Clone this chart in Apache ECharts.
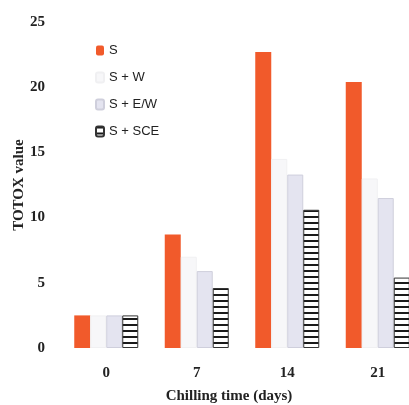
<!DOCTYPE html>
<html>
<head>
<meta charset="utf-8">
<script src="https://cdn.jsdelivr.net/npm/echarts@6/dist/echarts.min.js"></script>
<style>
  html, body { margin: 0; padding: 0; background: #fff; }
  #main { width: 409px; height: 405px; }
</style>
</head>
<body>
<div id="main"></div>
<script>
const days = ['0', '7', '14', '21']
const seriesNames = ['S', 'S + W', 'S + E/W', 'S + SCE']
const valS = [2.5, 8.7, 22.7, 20.4]
const valW = [2.5, 7.0, 14.5, 13.0]
const valEW = [2.5, 5.9, 13.3, 11.5]
const valSCE = [2.5, 4.6, 10.6, 5.4]

// horizontal stripe fill for S + SCE
const stripe = document.createElement('canvas')
stripe.width = 8
stripe.height = 6
const ctx = stripe.getContext('2d')
ctx.fillStyle = '#ffffff'
ctx.fillRect(0, 0, 8, 6)
ctx.fillStyle = '#1a1a1a'
ctx.fillRect(0, 0, 8, 2)

const serif = '"Liberation Serif", "Times New Roman", serif'
const myChart = echarts.init(document.getElementById('main'))

const barBase = {
    type: 'bar',
    barWidth: 16,
    barGap: '0%',
    animation: false
}

const option = {
    backgroundColor: '#fff',
    grid: { left: 61, top: 22, width: 362, height: 326, containLabel: false, outerBoundsMode: 'none' },
    legend: {
        orient: 'vertical',
        left: 90,
        top: 39,
        itemWidth: 8,
        itemHeight: 10,
        itemGap: 14,
        textStyle: { fontFamily: '"Liberation Sans", Arial, sans-serif', fontSize: 13, color: '#222' },
        data: seriesNames
    },
    xAxis: {
        type: 'category',
        data: days,
        axisLine: { show: false },
        axisTick: { show: false },
        axisLabel: { fontFamily: serif, fontWeight: 'bold', fontSize: 15, color: '#222', margin: 18 },
        name: 'Chilling time (days)',
        nameLocation: 'middle',
        nameGap: 41,
        nameTextStyle: { fontFamily: serif, fontWeight: 'bold', fontSize: 15, color: '#222', padding: [0, 26, 0, 0] }
    },
    yAxis: {
        type: 'value',
        min: 0,
        max: 25,
        interval: 5,
        axisLine: { show: false },
        axisTick: { show: false },
        splitLine: { show: false },
        axisLabel: { fontFamily: serif, fontWeight: 'bold', fontSize: 15, color: '#222', margin: 16 },
        name: 'TOTOX value',
        nameLocation: 'middle',
        nameGap: 34,
        nameMoveOverlap: false,
        nameTextStyle: { fontFamily: serif, fontWeight: 'bold', fontSize: 15, color: '#222' }
    },
    series: [
        Object.assign({}, barBase, {
            name: 'S', data: valS,
            itemStyle: { color: '#f15a2b' }
        }),
        Object.assign({}, barBase, {
            name: 'S + W', data: valW,
            itemStyle: { color: '#f7f7f9', borderColor: '#f0f0f2', borderWidth: 1 }
        }),
        Object.assign({}, barBase, {
            name: 'S + E/W', data: valEW,
            itemStyle: { color: '#e4e4f0', borderColor: '#cfcfdc', borderWidth: 1 }
        }),
        Object.assign({}, barBase, {
            name: 'S + SCE', data: valSCE,
            itemStyle: { color: { image: stripe, repeat: 'repeat' }, borderColor: '#333', borderWidth: 1 }
        })
    ]
}

myChart.setOption(option)
</script>
</body>
</html>
